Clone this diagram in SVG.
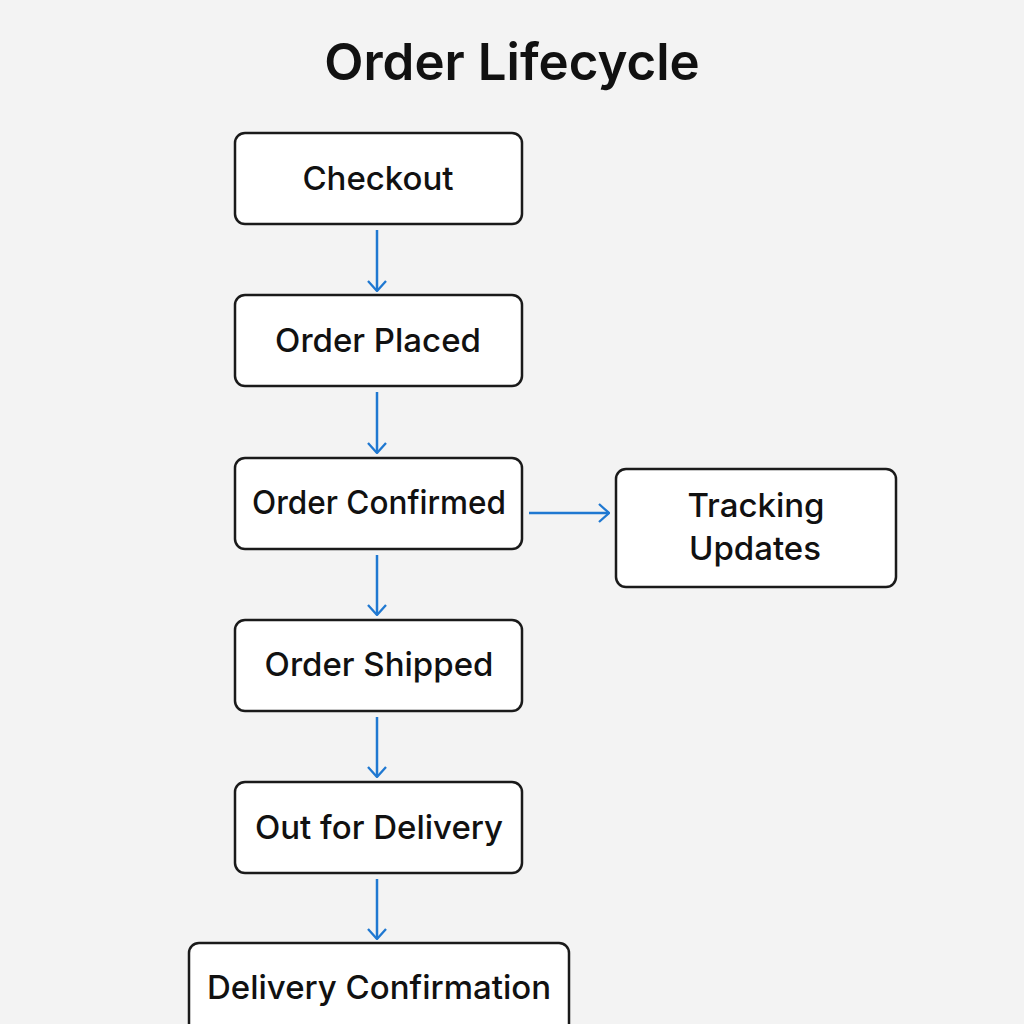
<svg xmlns="http://www.w3.org/2000/svg" width="1024" height="1024" viewBox="0 0 1024 1024">
<style>
.box{fill:#fff;stroke:#1a1a1a;stroke-width:2.5}
.t{font-family:Inter,"Noto Sans",sans-serif;font-size:33px;fill:#111;text-anchor:middle;font-weight:500}
.c{stroke:#1f78d1;stroke-width:2.5;fill:none}
</style>
<defs><marker id="a" viewBox="0 0 20 20" refX="19" refY="10" markerWidth="20" markerHeight="20" markerUnits="userSpaceOnUse" orient="auto"><path d="M9,1 L19,10 L9,19" fill="none" stroke="#1f78d1" stroke-width="2.3"/></marker></defs>
<rect width="1024" height="1024" fill="#f3f3f3"/>
<text x="512" y="80" font-family="Inter,'Noto Sans',sans-serif" font-size="51" font-weight="600" text-anchor="middle" fill="#111">Order Lifecycle</text>
<g id="connectors">
<path class="c" d="M377,230 V291" marker-end="url(#a)"/>
<path class="c" d="M377,392 V453" marker-end="url(#a)"/>
<path class="c" d="M377,555 V615" marker-end="url(#a)"/>
<path class="c" d="M377,717 V777" marker-end="url(#a)"/>
<path class="c" d="M377,879 V939" marker-end="url(#a)"/>
<path class="c" d="M529,513 H609" marker-end="url(#a)"/>
</g>
<g id="checkout"><rect class="box" x="235" y="133" width="287" height="91" rx="10"/><text class="t" x="378" y="190">Checkout</text></g>
<g id="placed"><rect class="box" x="235" y="295" width="287" height="91" rx="10"/><text class="t" x="378" y="352">Order Placed</text></g>
<g id="confirmed"><rect class="box" x="235" y="458" width="287" height="91" rx="10"/><text class="t" x="379" y="514" textLength="254" lengthAdjust="spacingAndGlyphs">Order Confirmed</text></g>
<g id="tracking"><rect class="box" x="616" y="469" width="280" height="118" rx="10"/><text class="t" x="756" y="517">Tracking</text><text class="t" x="755" y="560">Updates</text></g>
<g id="shipped"><rect class="box" x="235" y="620" width="287" height="91" rx="10"/><text class="t" x="379" y="676">Order Shipped</text></g>
<g id="out"><rect class="box" x="235" y="782" width="287" height="91" rx="10"/><text class="t" x="379" y="839">Out for Delivery</text></g>
<g id="delivery"><rect class="box" x="189" y="943" width="380" height="100" rx="10"/><text class="t" x="379" y="999" textLength="344" lengthAdjust="spacingAndGlyphs">Delivery Confirmation</text></g>
</svg>
